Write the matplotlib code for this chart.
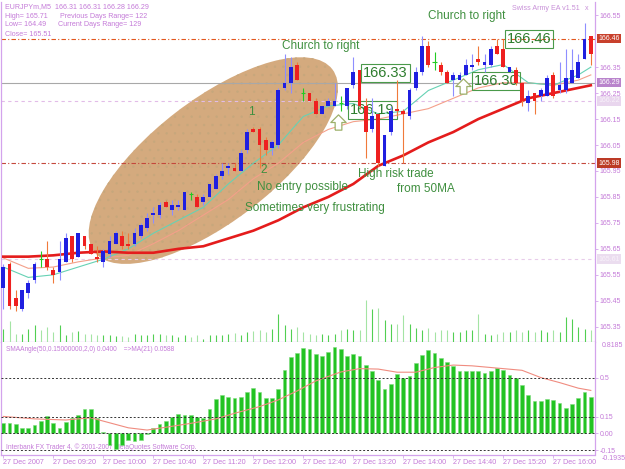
"""Redraw of an MT4 EURJPYm M5 screenshot: candles, moving averages,
volume and the SMAAngle histogram panel. Saves out.png (625x469)."""

import matplotlib

matplotlib.use("Agg")
import matplotlib.pyplot as plt
import numpy as np
from matplotlib import transforms
from matplotlib.patches import Ellipse
from matplotlib.path import Path

plt.rcParams["font.family"] = ["Liberation Sans", "DejaVu Sans"]
plt.rcParams["hatch.linewidth"] = 0.5

W, H = 625, 469
PURPLE = "#C47AD8"
FRAME = "#D3A3EC"
NOTE = "#3F8F3F"

# ---- price bars, 27 Dec 2007 from 08:40, 5 minutes each ----
opens = [165.50, 165.59, 165.46, 165.42, 165.48, 165.53, 165.61, 165.61, 165.57, 165.56,
         165.60, 165.70, 165.62, 165.70, 165.67, 165.62, 165.60, 165.63, 165.67, 165.70,
         165.67, 165.67, 165.70, 165.73, 165.78, 165.78, 165.83, 165.80, 165.81, 165.80,
         165.86, 165.85, 165.83, 165.85, 165.88, 165.93, 165.96, 165.96, 165.95, 166.03,
         166.11, 166.11, 166.07, 166.04, 166.05, 166.27, 166.29, 166.36, 166.25, 166.25,
         166.22, 166.17, 166.20, 166.20, 166.21, 166.20, 166.28, 166.34, 166.20, 166.11,
         166.17, 165.97, 166.10, 166.19, 166.18, 166.16, 166.27, 166.33, 166.43, 166.37,
         166.36, 166.33, 166.30, 166.30, 166.32, 166.35, 166.38, 166.36, 166.36, 166.43,
         166.42, 166.33, 166.34, 166.29, 166.21, 166.25, 166.24, 166.24, 166.32, 166.26,
         166.26, 166.29, 166.31, 166.38, 166.47]
highs = [165.59, 165.60, 165.49, 165.49, 165.53, 165.60, 165.64, 165.68, 165.58, 165.68,
         165.71, 165.70, 165.71, 165.70, 165.67, 165.66, 165.65, 165.70, 165.72, 165.72,
         165.71, 165.73, 165.75, 165.79, 165.81, 165.83, 165.84, 165.84, 165.84, 165.87,
         165.87, 165.86, 165.86, 165.90, 165.94, 165.98, 165.98, 165.98, 166.03, 166.11,
         166.12, 166.12, 166.08, 166.07, 166.27, 166.40, 166.39, 166.37, 166.27, 166.25,
         166.23, 166.20, 166.23, 166.29, 166.24, 166.27, 166.39, 166.34, 166.23, 166.23,
         166.17, 166.09, 166.20, 166.30, 166.19, 166.27, 166.35, 166.47, 166.45, 166.41,
         166.37, 166.34, 166.33, 166.33, 166.38, 166.40, 166.43, 166.40, 166.43, 166.46,
         166.46, 166.35, 166.35, 166.29, 166.26, 166.25, 166.27, 166.32, 166.33, 166.37,
         166.42, 166.42, 166.40, 166.52, 166.47]
lows = [165.42, 165.42, 165.41, 165.41, 165.46, 165.52, 165.58, 165.57, 165.52, 165.53,
        165.60, 165.60, 165.62, 165.65, 165.63, 165.60, 165.58, 165.62, 165.67, 165.65,
        165.65, 165.66, 165.69, 165.72, 165.75, 165.77, 165.81, 165.78, 165.80, 165.80,
        165.84, 165.81, 165.82, 165.85, 165.88, 165.92, 165.94, 165.95, 165.95, 166.02,
        166.10, 165.96, 166.01, 166.01, 166.04, 166.26, 166.25, 166.30, 166.22, 166.22,
        166.17, 166.17, 166.20, 166.20, 166.18, 166.19, 166.27, 166.19, 166.00, 166.10,
        165.97, 165.97, 166.09, 166.16, 165.98, 166.15, 166.26, 166.32, 166.35, 166.34,
        166.32, 166.29, 166.24, 166.30, 166.32, 166.34, 166.36, 166.33, 166.35, 166.40,
        166.35, 166.33, 166.28, 166.20, 166.18, 166.17, 166.22, 166.24, 166.23, 166.25,
        166.25, 166.29, 166.31, 166.38, 166.36]
closes = [165.58, 165.43, 165.43, 165.49, 165.52, 165.59, 165.61, 165.58, 165.55, 165.61,
          165.69, 165.61, 165.71, 165.66, 165.63, 165.61, 165.64, 165.68, 165.71, 165.66,
          165.66, 165.71, 165.74, 165.77, 165.79, 165.82, 165.81, 165.82, 165.82, 165.87,
          165.86, 165.81, 165.85, 165.90, 165.93, 165.95, 165.97, 165.95, 166.02, 166.10,
          166.10, 166.05, 166.03, 166.06, 166.26, 166.29, 166.35, 166.30, 166.25, 166.22,
          166.17, 166.20, 166.22, 166.22, 166.21, 166.27, 166.33, 166.20, 166.10, 166.16,
          165.98, 166.09, 166.18, 166.18, 166.17, 166.26, 166.33, 166.43, 166.36, 166.37,
          166.33, 166.29, 166.32, 166.32, 166.36, 166.36, 166.37, 166.37, 166.42, 166.40,
          166.35, 166.35, 166.29, 166.22, 166.24, 166.22, 166.26, 166.31, 166.24, 166.28,
          166.31, 166.34, 166.37, 166.46, 166.40]
volumes = [13, 21, 8, 8, 13, 17, 12, 15, 10, 17, 7, 10, 11, 8, 8, 7, 7, 7, 6, 6,
           5, 8, 7, 7, 8, 8, 7, 7, 5, 7, 5, 7, 3, 7, 7, 7, 8, 9, 7, 10,
           11, 12, 10, 13, 28, 17, 13, 15, 10, 8, 7, 8, 7, 8, 12, 13, 12, 12, 42, 33,
           34, 22, 18, 18, 27, 18, 14, 12, 14, 10, 12, 12, 10, 10, 12, 12, 28, 8, 7, 8,
           10, 10, 12, 10, 12, 10, 12, 10, 12, 10, 25, 23, 15, 13, 12]

# moving averages read every few bars
ma_bars = [0, 4, 8, 12, 16, 20, 24, 28, 32, 36, 40, 44, 48, 52, 56, 60, 64, 68, 72, 76,
           80, 84, 88, 92, 94]
ma_slow = [165.62, 165.62, 165.625, 165.635, 165.64, 165.635, 165.635, 165.65, 165.66, 165.69,
           165.72, 165.76, 165.81, 165.85, 165.90, 165.97, 166.01, 166.06, 166.10, 166.15,
           166.19, 166.23, 166.25, 166.27, 166.28]
ma_fast = [165.58, 165.54, 165.55, 165.58, 165.61, 165.65, 165.71, 165.76, 165.81, 165.90,
           165.98, 166.05, 166.16, 166.20, 166.21, 166.17, 166.18, 166.26, 166.30, 166.34,
           166.36, 166.29, 166.28, 166.32, 166.35]
ma_mid = [165.615, 165.575, 165.58, 165.60, 165.615, 165.625, 165.67, 165.72, 165.78, 165.84,
          165.92, 165.98, 166.06, 166.11, 166.14, 166.15, 166.17, 166.19, 166.23, 166.27,
          166.29, 166.29, 166.28, 166.30, 166.32]

# SMAAngle histogram and its MA(21)
angle = [.097, .091, .082, .045, .045, .076, .115, .152, .091, .045, .106, .136, .167, .221,
         .221, .136, .010, -.106, -.136, -.106, -.061, -.067, -.061, -.009, .045, .085, .115,
         .145, .176, .167, .167, .145, .136, .221, .312, .348, .327, .318, .327, .370, .406,
         .373, .318, .318, .394, .567, .682, .721, .767, .752, .712, .697, .727, .773, .752,
         .697, .712, .691, .612, .561, .479, .400, .445, .530, .500, .515, .630, .706, .748,
         .718, .676, .636, .600, .561, .561, .561, .555, .545, .561, .585, .570, .524, .500,
         .430, .342, .288, .288, .309, .297, .273, .227, .267, .318, .373, .327]
angle_ma_bars = [0, 5, 10, 14, 17, 20, 23, 26, 30, 34, 37, 41, 44, 47, 50, 54, 57, 60, 63,
                 66, 69, 72, 75, 79, 83, 86, 89, 92, 94]
angle_ma = [.152, .130, .120, .140, .095, .050, .030, .055, .090, .130, .180, .240, .300,
            .380, .470, .550, .580, .576, .548, .548, .590, .612, .605, .585, .565, .500,
            .455, .405, .385]
angle_levels = [0.5, 0.15, 0.0, -0.15]
angle_level_labels = ["0.5", "0.15", "0.00", "-0.15"]

time_ticks = [0, 8, 16, 24, 32, 40, 48, 56, 64, 72, 80, 88]
time_labels = ["27 Dec 2007", "27 Dec 09:20", "27 Dec 10:00", "27 Dec 10:40",
               "27 Dec 11:20", "27 Dec 12:00", "27 Dec 12:40", "27 Dec 13:20",
               "27 Dec 14:00", "27 Dec 14:40", "27 Dec 15:20", "27 Dec 16:00"]
price_ticks = [165.35, 165.45, 165.55, 165.65, 165.75, 165.85, 165.95, 166.05,
               166.15, 166.25, 166.35, 166.55]

# horizontal levels: price, colour, dash pattern, label box colour, label text colour
levels = [
    (166.46, "#E2571E", (0, (4, 2, 1, 2)), "#C8402C", "white"),
    (166.29, "#A8A8A8", "-", "#B984CC", "white"),
    (166.22, "#E2BCE8", (0, (3, 3)), "#E9D6EE", "#F8F2FA"),
    (165.98, "#C4483C", (0, (4, 2, 1, 2)), "#BC3A26", "white"),
    (165.61, "#E8CCEA", (0, (3, 3)), "#EBDDEF", "#F8F2FA"),
]

# chart notes: (bar, price, text, size)
notes = [
    (50.8, 166.431, "Church to right", 8.5),
    (74.2, 166.547, "Church to right", 8.5),
    (39.7, 166.178, "1", 8.5),
    (41.7, 165.954, "2", 8.5),
    (47.8, 165.888, "No entry possible", 8.5),
    (49.9, 165.807, "Sometimes very frustrating", 8.5),
    (62.8, 165.938, "High risk trade", 8.5),
    (67.7, 165.879, "from 50MA", 8.5),
]
price_tags = [(61.15, 166.327, "166.33"), (59.07, 166.185, "166.19"),
              (78.83, 166.297, "166.30"), (84.11, 166.458, "166.46")]
arrow_bars = [53.55, 73.55]
arrow_prices = [166.139, 166.277]


def px_axes(fig, x0, y0, x1, y1, **kw):
    return fig.add_axes([x0 / W, 1 - y1 / H, (x1 - x0) / W, (y1 - y0) / H], **kw)


def frame(ax):
    for sp in ax.spines.values():
        sp.set_color(FRAME)
        sp.set_linewidth(0.9)
    ax.spines["top"].set_visible(False)


fig = plt.figure(figsize=(W / 100, H / 100), dpi=100)
fig.patch.set_facecolor("white")

ax = px_axes(fig, 1.5, 2, 594.5, 342)
ax.set_xlim(-0.29, 94.59)
ax.set_ylim(165.2912, 166.6009)
frame(ax)

# the highlight ellipse, sized in screen pixels
ell_t = transforms.ScaledTranslation(33.6, 165.99, ax.transData)
ax.add_patch(Ellipse((0, 0), 300, 122, angle=37.5, facecolor="#D4AA7E",
                     edgecolor="none", transform=ell_t, zorder=1))
ax.add_patch(Ellipse((0, 0), 300, 122, angle=37.5, facecolor="none",
                     edgecolor="#C6A77C", lw=0, hatch="..", transform=ell_t, zorder=1.1))

blend = transforms.blended_transform_factory(ax.transAxes, ax.transData)
for price, col, ls, box_col, txt_col in levels:
    ax.axhline(price, color=col, lw=0.8, ls=ls, zorder=2)
    ax.text(1.006, price, f"{price:.2f}", transform=blend, fontsize=5, color=txt_col,
            ha="left", va="center", clip_on=False, zorder=10,
            bbox=dict(boxstyle="square,pad=0.18", fc=box_col, ec="none"))

bars = np.array(ma_bars)
ax.plot(bars, ma_mid, color="#F4A08A", lw=0.8, zorder=3)
ax.plot(bars, ma_fast, color="#66D2B4", lw=0.8, zorder=3)
ax.plot(bars, ma_slow, color="#E41C1C", lw=1.9, zorder=3)

# price tags sit under the candles (transparent box)
for b, p, s in price_tags:
    ax.text(b, p, s, fontsize=10.5, color="#2E7D2E", ha="center", va="center", zorder=3.5,
            bbox=dict(boxstyle="square,pad=0.12", fc="none", ec="#4A9A4A", lw=0.8))

o, h, l, c = (np.array(v) for v in (opens, highs, lows, closes))
x = np.arange(len(o))
up, dn, dj = c > o, c < o, c == o
ax.vlines(x[up], l[up], h[up], color="#8E8EFF", lw=0.8, zorder=4)
ax.vlines(x[dn], l[dn], h[dn], color="#F07A3A", lw=0.8, zorder=4)
ax.bar(x[up], np.maximum((c - o)[up], 0.004), bottom=o[up], width=0.6,
       color="#1F1FE0", zorder=5)
ax.bar(x[dn], np.maximum((o - c)[dn], 0.004), bottom=c[dn], width=0.6,
       color="#EE2020", zorder=5)
ax.vlines(x[dj], l[dj], h[dj], color="#22CC22", lw=0.8, zorder=5)
ax.hlines(o[dj], x[dj] - 0.35, x[dj] + 0.35, color="#22CC22", lw=0.8, zorder=5)

arrow = Path([(-0.22, -0.5), (0.22, -0.5), (0.22, 0.0), (0.5, 0.0), (0.0, 0.5),
              (-0.5, 0.0), (-0.22, 0.0), (-0.22, -0.5)])
ax.plot(arrow_bars, arrow_prices, ls="none", marker=arrow, ms=11, mfc="white",
        mec="#9DB06A", mew=0.9, zorder=6)

for b, p, s, size in notes:
    ax.text(b, p, s, fontsize=size, color=NOTE, ha="center", va="center", zorder=6)

ax.yaxis.tick_right()
ax.set_yticks(price_ticks)
ax.set_yticklabels([f"{t:.2f}" for t in price_ticks])
ax.tick_params(axis="y", direction="out", length=2, width=0.6, colors=FRAME,
               labelcolor=PURPLE, labelsize=5, pad=1.5)
ax.tick_params(axis="x", bottom=False, labelbottom=False)

# volume strip along the bottom of the price panel
ax_vol = px_axes(fig, 1.5, 2, 594.5, 342, sharex=ax)
ax_vol.set_ylim(0, 340)
ax_vol.axis("off")
ax_vol.patch.set_visible(False)
vol = np.array(volumes)
ax_vol.vlines(x[up], 0, vol[up], color="#52CF52", lw=0.8)
ax_vol.vlines(x[~up], 0, vol[~up], color="#A4E4A4", lw=0.8)

# header texts
hdr = [(5, 6.5, "EURJPYm,M5  166.31 166.31 166.28 166.29"),
       (5, 16, "High= 165.71"), (60, 16, "Previous Days Range= 122"),
       (5, 25, "Low= 164.49"), (58, 25, "Current Days Range= 129"),
       (5, 34, "Close= 165.51")]
for hx, hy, s in hdr:
    fig.text(hx / W, 1 - hy / H, s, fontsize=5.1, color=PURPLE, ha="left", va="center")
fig.text(580 / W, 1 - 8.5 / H, "Swiss Army EA v1.51", fontsize=5.1, color="#C890D8",
         ha="right", va="center")
fig.text(587 / W, 1 - 8.5 / H, "x", fontsize=5.1, color="#C890D8", ha="center", va="center")

# ---- indicator panel ----
ai = px_axes(fig, 1.5, 342, 594.5, 455, sharex=ax)
ai.set_ylim(-0.1935, 0.8185)
frame(ai)
ai.bar(x, angle, width=0.6, color="#22C322", edgecolor="#7EDC7E", lw=0.4, zorder=2)
ai.plot(angle_ma_bars, angle_ma, color="#F08C80", lw=0.8, zorder=3)
for lv in angle_levels:
    ai.axhline(lv, color="#333333", lw=0.7, ls=(0, (2, 2)), zorder=4)

ai.yaxis.tick_right()
ai.set_yticks(angle_levels)
ai.set_yticklabels(angle_level_labels)
ai.tick_params(axis="y", direction="out", length=2, width=0.6, colors=FRAME,
               labelcolor=PURPLE, labelsize=5, pad=1.5)
iblend = transforms.blended_transform_factory(ai.transAxes, ai.transData)
ai.text(1.012, 0.8185, "0.8185", transform=iblend, fontsize=5, color=PURPLE,
        ha="left", va="top", clip_on=False)
ai.text(1.012, -0.1935, "-0.1935", transform=iblend, fontsize=5, color=PURPLE,
        ha="left", va="top", clip_on=False)

ai.set_xticks(time_ticks)
ai.set_xticklabels(time_labels, ha="left")
ai.tick_params(axis="x", direction="out", length=2, width=0.6, colors=FRAME,
               labelcolor=PURPLE, labelsize=5.2, pad=1)

ai.text(0.008, 0.93, "SMAAngle(50,0.15000000,2,0) 0.0400    =>MA(21) 0.0588",
        transform=ai.transAxes, fontsize=4.7, color=PURPLE, ha="left", va="center")
ai.text(0.008, 0.07, "Interbank FX Trader 4, \u00a9 2001-2007 MetaQuotes Software Corp.",
        transform=ai.transAxes, fontsize=4.8, color=PURPLE, ha="left", va="center", zorder=1)

fig.savefig("out.png", dpi=100)
